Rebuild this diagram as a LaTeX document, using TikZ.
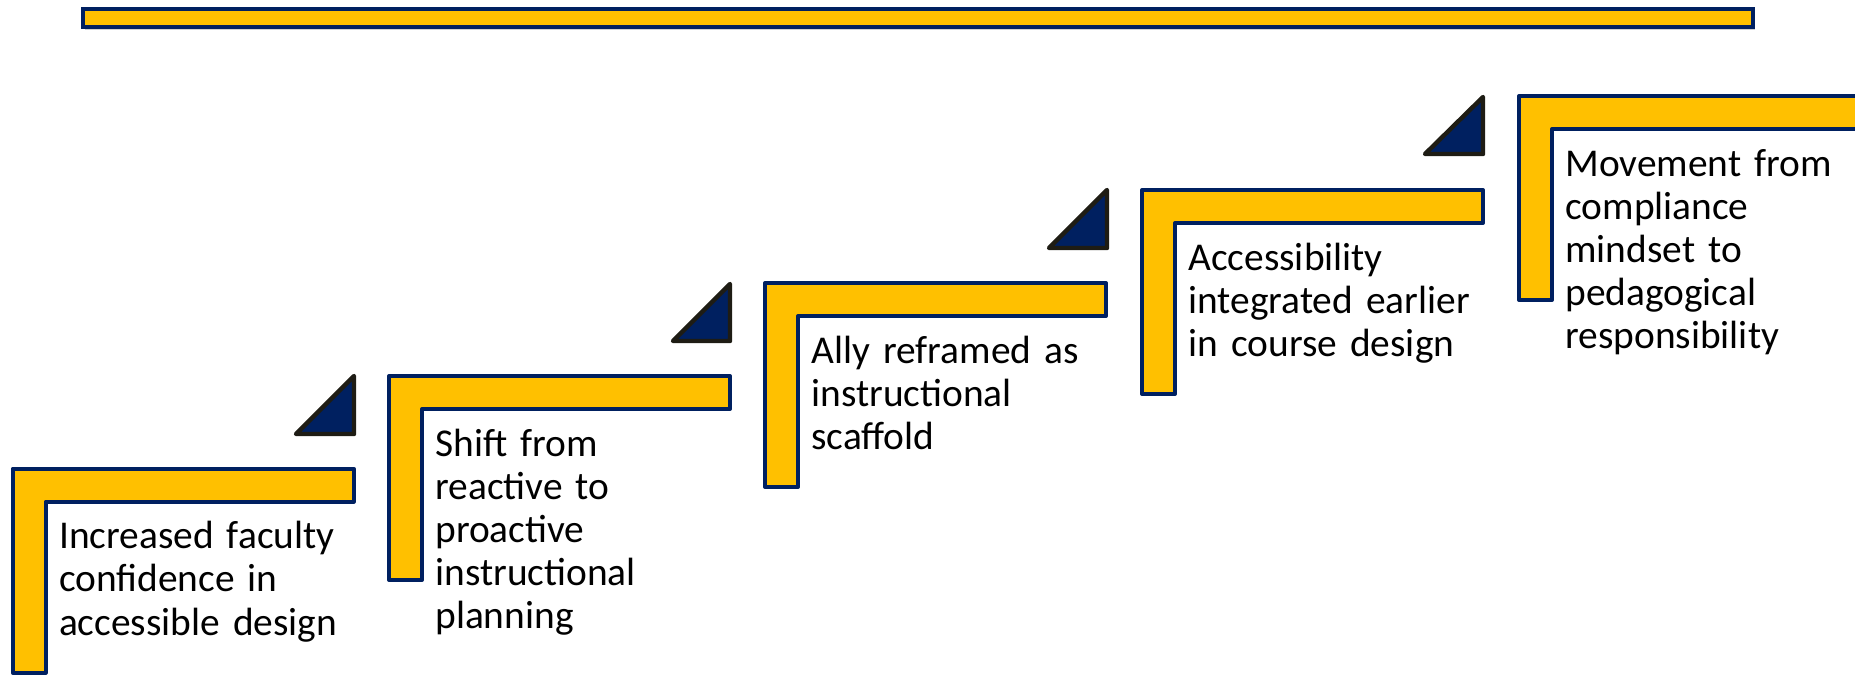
\documentclass[tikz,border=0pt]{standalone}
\usepackage{fontspec}
\setmainfont{Carlito}
\usetikzlibrary{shadows}
\definecolor{gold}{HTML}{FFC000}
\definecolor{navy}{HTML}{002060}
\definecolor{tipedge}{HTML}{1E1C14}
\tikzset{
  stair/.style={fill=gold, draw=navy, line width=2pt, line join=round},
  tip/.style={fill=navy, draw=tipedge, line width=2.2pt, line join=round},
  steptext/.style={anchor=north west, inner sep=0pt, text width=170pt, align=left,
    font=\fontsize{19.7}{21.6}\selectfont, execute at begin node=\strut}
}
\begin{document}
\begin{tikzpicture}[x=0.5pt, y=-0.5pt]
      \clip (0,0) rectangle (1855,674);
      \draw[fill=gold, draw=navy, line width=1.6pt,
        drop shadow={shadow xshift=1pt, shadow yshift=-1.5pt, fill=black!60, opacity=0.3}]
        (83,9) rectangle (1753,27);
      \draw[stair] (12.7,468.7) -- ++(341,0) -- ++(0,33) -- ++(-308,0) -- ++(0,171) -- ++(-33,0) -- cycle;
      \draw[stair] (389,376) -- ++(341,0) -- ++(0,33) -- ++(-308,0) -- ++(0,171) -- ++(-33,0) -- cycle;
      \draw[stair] (765,283) -- ++(341,0) -- ++(0,33) -- ++(-308,0) -- ++(0,171) -- ++(-33,0) -- cycle;
      \draw[stair] (1142,190) -- ++(341,0) -- ++(0,33) -- ++(-308,0) -- ++(0,171) -- ++(-33,0) -- cycle;
      \draw[stair] (1519,96) -- ++(341,0) -- ++(0,33) -- ++(-308,0) -- ++(0,171) -- ++(-33,0) -- cycle;
      \draw[tip] (296,434) -- (354,434) -- (354,376) -- cycle;
      \draw[tip] (673,341) -- (730,341) -- (730,284) -- cycle;
      \draw[tip] (1049,248) -- (1107,248) -- (1107,190) -- cycle;
      \draw[tip] (1425,154) -- (1483,154) -- (1483,97) -- cycle;
      \draw
        (58.7,518) node[steptext] (s1) {Increased faculty\\confidence in\\accessible design}
        (435,425.5) node[steptext] (s2) {Shift from\\reactive to\\proactive\\instructional\\planning}
        (811,332.5) node[steptext] (s3) {Ally reframed as\\instructional\\scaffold}
        (1188,239.5) node[steptext] (s4) {Accessibility\\integrated earlier\\in course design}
        (1565,145.5) node[steptext] (s5) {Movement from\\compliance\\mindset to\\pedagogical\\responsibility};
    \end{tikzpicture}
\end{document}
